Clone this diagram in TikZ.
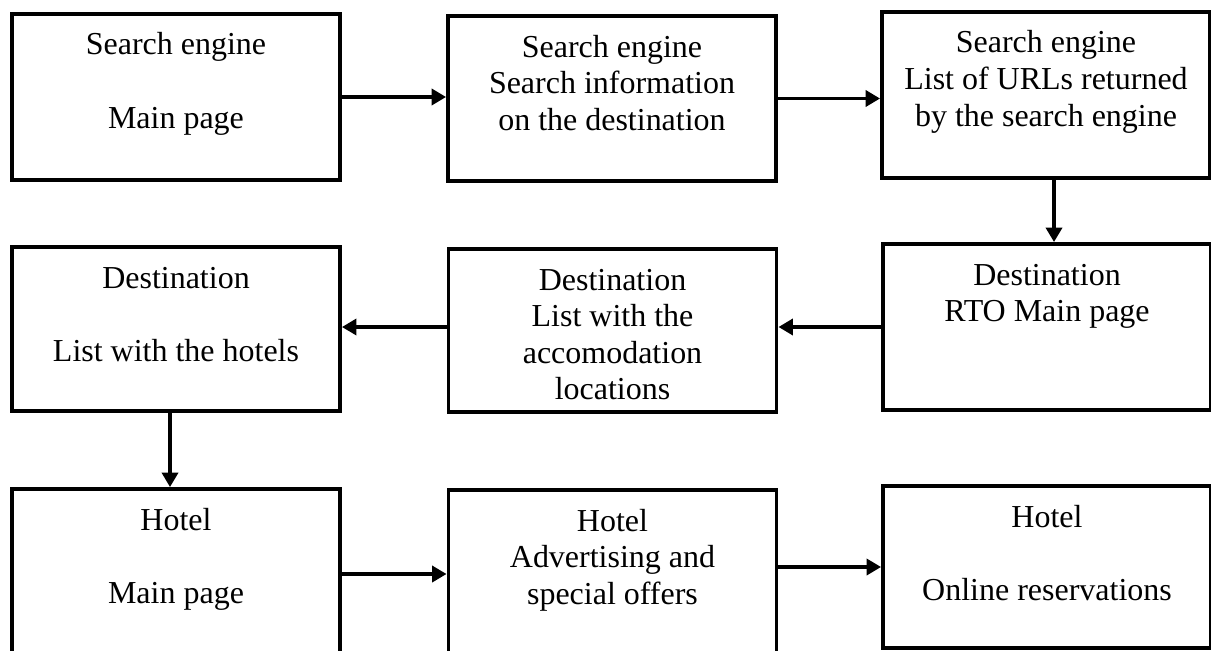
\documentclass[tikz,border=0pt]{standalone}
\usepackage{fontspec}
\setmainfont{Liberation Serif}
\usetikzlibrary{arrows.meta}
\newcommand{\pagetext}[1]{\begin{tabular}[t]{@{}c@{}}#1\end{tabular}}

\begin{document}
\begin{tikzpicture}[
  page/.style={draw,line width=2.2pt,minimum width=6.56cm,
    inner xsep=0pt,inner ysep=0pt,text height=0.82cm,
    font=\fontsize{18.2}{20.8}\selectfont},
  flow/.style={line width=2.2pt,-{Triangle[length=0.29cm,width=0.32cm]}}]
\clip(0,0)rectangle(24.22,-13.02);
% first row
\node[page,text depth=2.50cm](b1)at(3.52,-1.94){\pagetext{Search engine\\ \\Main page}};
\node[page,text depth=2.48cm](b2)at(12.24,-1.97){\pagetext{Search engine\\Search information\\on the destination}};
\node[page,text depth=2.50cm](b3)at(20.92,-1.90){\pagetext{Search engine\\List of URLs returned\\by the search engine}};
% second row
\node[page,text depth=2.46cm](b4)at(3.52,-6.58){\pagetext{Destination\\ \\List with the hotels}};
\node[page,text depth=2.44cm](b5)at(12.25,-6.61){\pagetext{Destination\\List with the\\accomodation\\locations}};
\node[page,text depth=2.50cm](b6)at(20.94,-6.54){\pagetext{Destination\\RTO Main page}};
% third row
\node[page,text depth=2.58cm](b7)at(3.52,-11.48){\pagetext{Hotel\\ \\Main page}};
\node[page,text depth=2.78cm](b8)at(12.25,-11.60){\pagetext{Hotel\\Advertising and\\special offers}};
\node[page,text depth=2.42cm](b9)at(20.94,-11.34){\pagetext{Hotel\\ \\Online reservations}};
\draw[flow](b1.east)--(b1.east-|b2.west);
\draw[flow](b2.east)--(b2.east-|b3.west);
\draw[flow]([xshift=0.16cm]b3.south)--([xshift=0.16cm]b3.south|-b6.north);
\draw[flow](b6.west)--(b6.west-|b5.east);
\draw[flow](b6.west-|b5.west)--(b6.west-|b4.east);
\draw[flow]([xshift=-0.12cm]b4.south)--([xshift=-0.12cm]b4.south|-b7.north);
\draw[flow](b7.east)--(b7.east-|b8.west);
\draw[flow](b8.east|-b9.west)--(b9.west);
\end{tikzpicture}
\end{document}
